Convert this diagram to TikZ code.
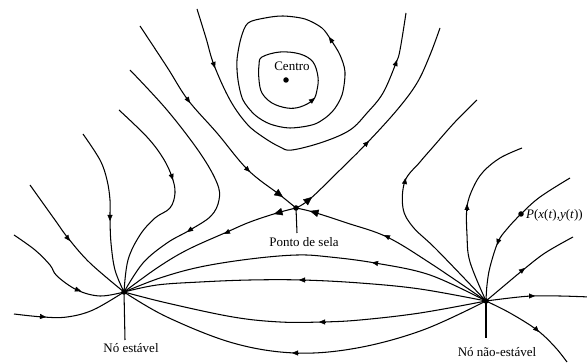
\documentclass[tikz,border=0pt]{standalone}
\usepackage{fontspec}
\setmainfont{Liberation Serif}
\usetikzlibrary{arrows.meta}
\begin{document}
\begin{tikzpicture}[x=1pt,y=-1pt,
  flow/.style={line width=1.05pt, line join=round},
  tipsmall/.style={-{Triangle[length=6pt,width=5pt]}, line width=0.4pt},
  tipbig/.style={-{Triangle[length=8.5pt,width=7.5pt]}, line width=0.4pt},
  dot/.style={circle, fill, inner sep=0pt, minimum size=5.5pt},
  lbl/.style={font=\fontsize{13}{15}\selectfont, inner sep=0pt}]
\useasboundingbox (0,0) rectangle (587,363);

% singular points
\node[dot] (N1) at (124,292) {};
\node[dot] (N2) at (486,301) {};
\node[dot] (S) at (296,208) {};
\node[dot] (C) at (286,80) {};
\node[dot] (P) at (521,214) {};

% labels
\node[lbl] (cl) at (292,66) {Centro};
\node[lbl] (sl) at (304,242) {Ponto de sela};
\node[lbl] (n1l) at (131,348) {Nó estável};
\node[lbl] (n2l) at (497,352) {Nó não-estável};
\node[lbl, anchor=west] (pl) at (526,215) {\textit{P}(\textit{x}(\textit{t}),\textit{y}(\textit{t}))};
\coordinate (sb) at (297,233);
\coordinate (n1b) at (125,340);
\coordinate (n2b) at (486,338);
\draw[flow] (S.center) -- (sb);
\draw[flow] (N1.center) -- (n1b);
\draw[flow] (N2.center) -- (n2b);

% centre orbits
\draw[flow] plot[smooth cycle, tension=0.6] coordinates {(262,57) (280,52) (300,54) (313,62) (318,77) (317,90) (313,100) (300,107) (287,108) (272,103) (262,93) (259,80) (259,65)};
\draw[flow] plot[smooth cycle, tension=0.5] coordinates {(248,23) (265,18) (283,16) (305,19) (322,28) (331,40) (340,55) (345,72) (342,95) (332,112) (315,124) (290,128) (270,124) (255,115) (243,100) (238,80) (237,60) (241,38)};
% outer U
\draw[flow] plot[smooth, tension=0.6] coordinates {(197,9) (206,38) (214,65) (230,100) (247,124) (263,137) (280,147) (292,150) (323,142) (350,130) (367,113) (383,93) (396,63) (400,50) (406,13)};

% saddle separatrices
\draw[flow] plot[smooth, tension=0.6] coordinates {(140,26) (167,67) (188,100) (217,133) (248,170) (280,195) (S.center)};
\draw[flow] plot[smooth, tension=0.6] coordinates {(S.center) (277,213) (250,222) (227,232) (187,250) (157,268) (N1.center)};
\draw[flow] plot[smooth, tension=0.6] coordinates {(N2.center) (430,263) (387,237) (347,223) (313,212) (S.center)};
\draw[flow] plot[smooth, tension=0.6] coordinates {(S.center) (310,199) (340,170) (367,143) (397,110) (417,83) (430,55) (440,28)};

% left curves into stable node
\draw[flow] plot[smooth, tension=0.6] coordinates {(130,70) (167,110) (200,153) (217,183) (219,200) (211,216) (190,230) (167,243) (143,263) (N1.center)};
\draw[flow] plot[smooth, tension=0.6] coordinates {(119,110) (147,137) (163,158) (172,177) (175,193) (170,208) (155,218) (140,235) (128,260) (N1.center)};
\draw[flow] plot[smooth, tension=0.6] coordinates {(83,134) (100,160) (107,180) (110,200) (110,218) (111,243) (115,270) (N1.center)};
\draw[flow] plot[smooth, tension=0.6] coordinates {(30,185) (55,220) (68,238) (90,263) (N1.center)};
\draw[flow] plot[smooth, tension=0.6] coordinates {(14,235) (35,250) (50,265) (57,276) (77,290) (100,296) (N1.center)};
\draw[flow] plot[smooth, tension=0.6] coordinates {(14,314) (43,317) (67,317) (93,310) (N1.center)};

% curves between nodes
\draw[flow] plot[smooth, tension=0.6] coordinates {(N2.center) (430,275) (375,263) (330,257) (297,255) (250,259) (200,267) (160,278) (N1.center)};
\draw[flow] plot[smooth, tension=0.6] coordinates {(N2.center) (420,289) (360,283) (302,280) (250,280) (200,282) (157,285) (N1.center)};
\draw[flow] plot[smooth, tension=0.6] coordinates {(N2.center) (420,313) (360,320) (322,322) (280,322) (233,317) (167,303) (N1.center)};
\draw[flow] plot[smooth, tension=0.6] coordinates {(N2.center) (423,330) (357,348) (295,353) (233,343) (167,317) (N1.center)};

% right curves from unstable node
\draw[flow] plot[smooth, tension=0.6] coordinates {(N2.center) (437,250) (413,227) (403,208) (405,181) (420,162) (433,147) (455,122) (477,100)};
\draw[flow] plot[smooth, tension=0.6] coordinates {(N2.center) (470,262) (467,235) (467,207) (473,188) (483,172) (500,158) (522,148)};
\draw[flow] plot[smooth, tension=0.6] coordinates {(570,178) (540,197) (P.center) (507,229) (498,242) (490,267) (487,285) (N2.center)};
\draw[flow] plot[smooth, tension=0.6] coordinates {(N2.center) (505,285) (523,270) (545,253) (573,237)};
\draw[flow] plot[smooth, tension=0.6] coordinates {(N2.center) (510,298) (532,296) (560,296) (590,297)};
\draw[flow] plot[smooth, tension=0.6] coordinates {(N2.center) (510,313) (537,330) (555,347) (567,362)};

% arrow heads
\draw[tipsmall] (213,62) -- (215,68);
\draw[tipsmall] (395,66) -- (397,60);
\draw[tipsmall] (310,102) -- (315,98);
\draw[tipsmall] (333,43) -- (329,37);
\draw[tipsmall] (186,97) -- (190,103);
\draw[tipsmall] (246,168) -- (250,172);
\draw[tipbig] (276,192) -- (283,197);
\draw[tipsmall] (193,228) -- (187,232);
\draw[tipsmall] (171,174) -- (173,180);
\draw[tipsmall] (110,215) -- (110,221);
\draw[tipsmall] (66,236) -- (70,241);
\draw[tipsmall] (75,289) -- (81,291);
\draw[tipsmall] (40,316.5) -- (46,317);
\draw[tipbig] (281,212) -- (274,214);
\draw[tipsmall] (230,231) -- (224,234);
\draw[tipbig] (317,213) -- (310,211);
\draw[tipsmall] (390,238) -- (384,235);
\draw[tipbig] (306,202) -- (312,197);
\draw[tipsmall] (365,145) -- (369,141);
\draw[tipsmall] (378,263.5) -- (372,262.5);
\draw[tipsmall] (305,280) -- (299,280);
\draw[tipsmall] (325,322) -- (319,322);
\draw[tipsmall] (298,353) -- (292,353);
\draw[tipsmall] (404.5,184) -- (405.5,178);
\draw[tipsmall] (467,210) -- (467,204);
\draw[tipsmall] (499,239) -- (497,245);
\draw[tipsmall] (520,272) -- (525,268);
\draw[tipsmall] (529,296) -- (535,296);
\draw[tipsmall] (535,328) -- (539,332);
\end{tikzpicture}
\end{document}
